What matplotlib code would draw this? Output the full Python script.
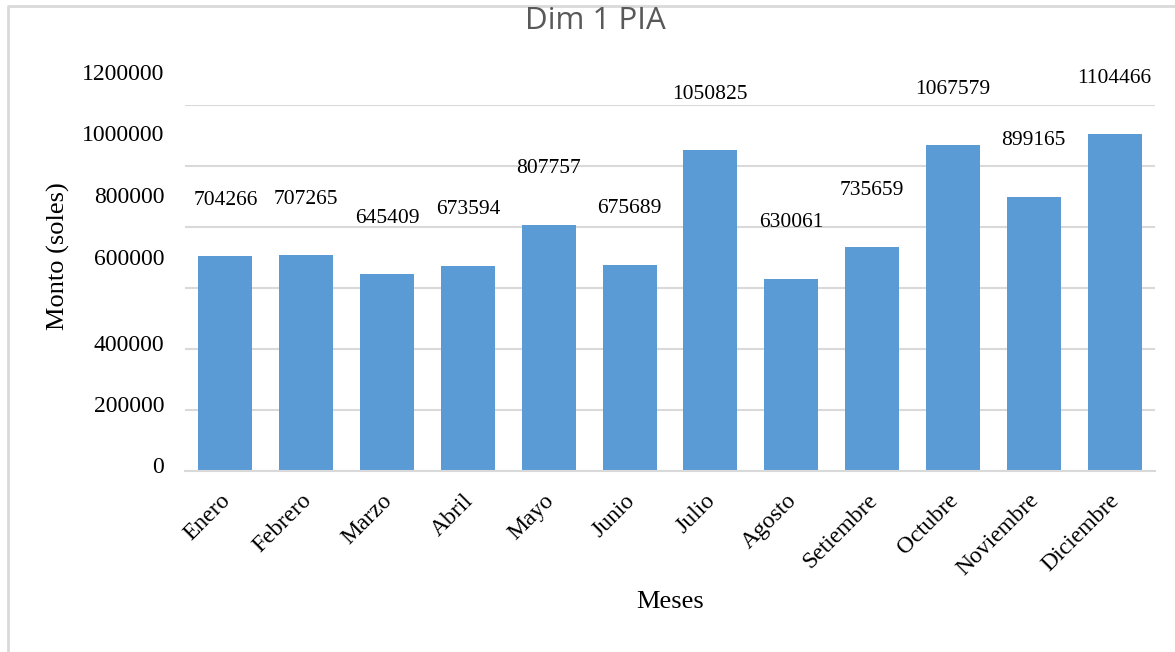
import numpy as np
import matplotlib
matplotlib.use("Agg")
import matplotlib.pyplot as plt
import matplotlib.transforms as mtransforms
from matplotlib.lines import Line2D

meses = ["Enero", "Febrero", "Marzo", "Abril", "Mayo", "Junio", "Julio",
         "Agosto", "Setiembre", "Octubre", "Noviembre", "Diciembre"]
montos = [704266, 707265, 645409, 673594, 807757, 675689, 1050825,
          630061, 735659, 1067579, 899165, 1104466]
yticks = [0, 200000, 400000, 600000, 800000, 1000000, 1200000]

plt.rcParams['font.family'] = ['Liberation Serif', 'DejaVu Serif']

W, H = 1175, 652
fig = plt.figure(figsize=(W / 100, H / 100), dpi=100)
ax = fig.add_axes([185 / W, 1 - 471 / H, (1155 - 185) / W, (471 - 105) / H])

x = np.arange(len(meses))
ax.bar(x, montos, width=0.67, color="#5B9BD5", zorder=2)

ax.set_xlim(-0.5, len(meses) - 0.5)
ax.set_ylim(0, 1200000)
ax.set_yticks(yticks)
ax.set_yticklabels([str(v) for v in yticks], fontsize=17)
ax.yaxis.grid(True, color="#d9d9d9", linewidth=1.5, zorder=0)
ax.tick_params(axis="y", length=0, pad=15)
ax.tick_params(axis="x", length=0, pad=19)
for s in ["top", "right", "left"]:
  ax.spines[s].set_visible(False)
ax.spines["bottom"].set_color("#d9d9d9")
ax.spines["bottom"].set_linewidth(1.5)

# the original's upper tick labels sit higher than their gridlines
label_shift = [6, 6, 6, 31, 32, 33, 33]
for lab, dy in zip(ax.get_yticklabels(), label_shift):
  lab.set_transform(lab.get_transform() + mtransforms.ScaledTranslation(0, dy / 100, fig.dpi_scale_trans))

ax.set_xticks(x)
ax.set_xticklabels(meses, fontsize=17, rotation=45, ha="right", va="center",
                   rotation_mode="anchor")
for lab in ax.get_xticklabels():
  lab.set_transform(lab.get_transform() + mtransforms.ScaledTranslation(2 / 100, 0, fig.dpi_scale_trans))

for xi, v in zip(x, montos):
  ax.annotate(str(v), (xi, v), xytext=(0, 56), textcoords="offset pixels",
              ha="center", va="center", fontsize=15.5)

fig.text(595 / W, 1 - 21 / H, "Dim 1 PIA", ha="center", va="center",
         fontsize=22.5, color="#595959", family=["Open Sans", "DejaVu Sans"])
fig.text(670 / W, 1 - 602 / H, "Meses", ha="center", va="center", fontsize=19)
fig.text(58 / W, 1 - 256 / H, "Monto (soles)", ha="center", va="center",
         fontsize=19, rotation=90)

# chart border (left and top edges visible)
fig.add_artist(Line2D([8 / W, 8 / W, 1], [0, 1 - 6 / H, 1 - 6 / H],
                      transform=fig.transFigure, color="#d9d9d9", linewidth=2))

fig.savefig("out.png", dpi=100)
